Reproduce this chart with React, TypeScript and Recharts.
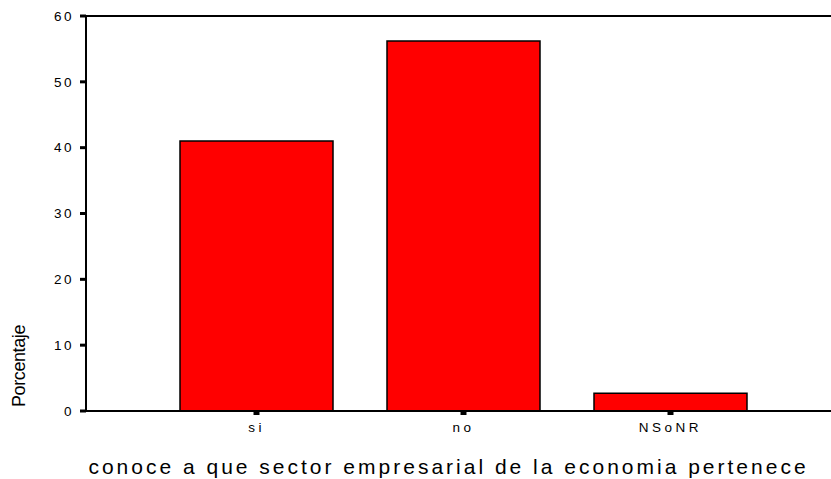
import { BarChart, Bar, XAxis, YAxis, ReferenceLine } from "recharts";

const categories = ["si", "no", "NSoNR"];
const porcentaje = [41.0, 56.2, 2.7];
const yTicks = [0, 10, 20, 30, 40, 50, 60];

const data = categories.map((c, i) => ({ name: c, value: porcentaje[i] }));

const font = "Arial, 'Liberation Sans', sans-serif";

function XTitle(props: any) {
  const vb = props.viewBox;
  return (
    <text
      x={vb.x + vb.width / 2 - 10}
      y={vb.y + vb.height - 5}
      textAnchor="middle"
      fontFamily={font}
      fontSize={21}
      letterSpacing={3}
      fill="#000"
    >
      conoce a que sector empresarial de la economia pertenece
    </text>
  );
}

function YTitle(props: any) {
  const vb = props.viewBox;
  const cx = 25;
  const cy = vb.y + vb.height - 45;
  return (
    <text
      x={cx}
      y={cy}
      transform={`rotate(-90, ${cx}, ${cy})`}
      textAnchor="middle"
      fontFamily={font}
      fontSize={18}
      letterSpacing={-0.4}
      fill="#000"
    >
      Porcentaje
    </text>
  );
}

export default function App() {
  return (
    <div style={{ position: "absolute", left: 0, top: 0, background: "#fff" }}>
      <BarChart
        width={831}
        height={479}
        data={data}
        margin={{ top: 16, right: 0, bottom: 0, left: 0 }}
      >
        <XAxis
          dataKey="name"
          height={68}
          padding={{ left: 67, right: 57 }}
          axisLine={{ stroke: "#000", strokeWidth: 2 }}
          tickLine={{ stroke: "#000", strokeWidth: 6 }}
          tickSize={4}
          tickMargin={7}
          tick={{ fill: "#000", fontSize: 13.5, fontFamily: font, letterSpacing: 3.5 }}
          label={XTitle}
        />
        <YAxis
          width={86}
          domain={[0, 60]}
          ticks={yTicks}
          interval={0}
          axisLine={{ stroke: "#000", strokeWidth: 2 }}
          tickLine={{ stroke: "#000", strokeWidth: 3 }}
          tickSize={6}
          tickMargin={6}
          tick={{ fill: "#000", fontSize: 13.5, fontFamily: font, letterSpacing: 2.5 }}
          label={YTitle}
        />
        <ReferenceLine y={60} stroke="#000" strokeWidth={2} />
        <Bar
          dataKey="value"
          fill="#ff0000"
          stroke="#000"
          strokeWidth={1.5}
          barSize={153}
          isAnimationActive={false}
        />
      </BarChart>
    </div>
  );
}
